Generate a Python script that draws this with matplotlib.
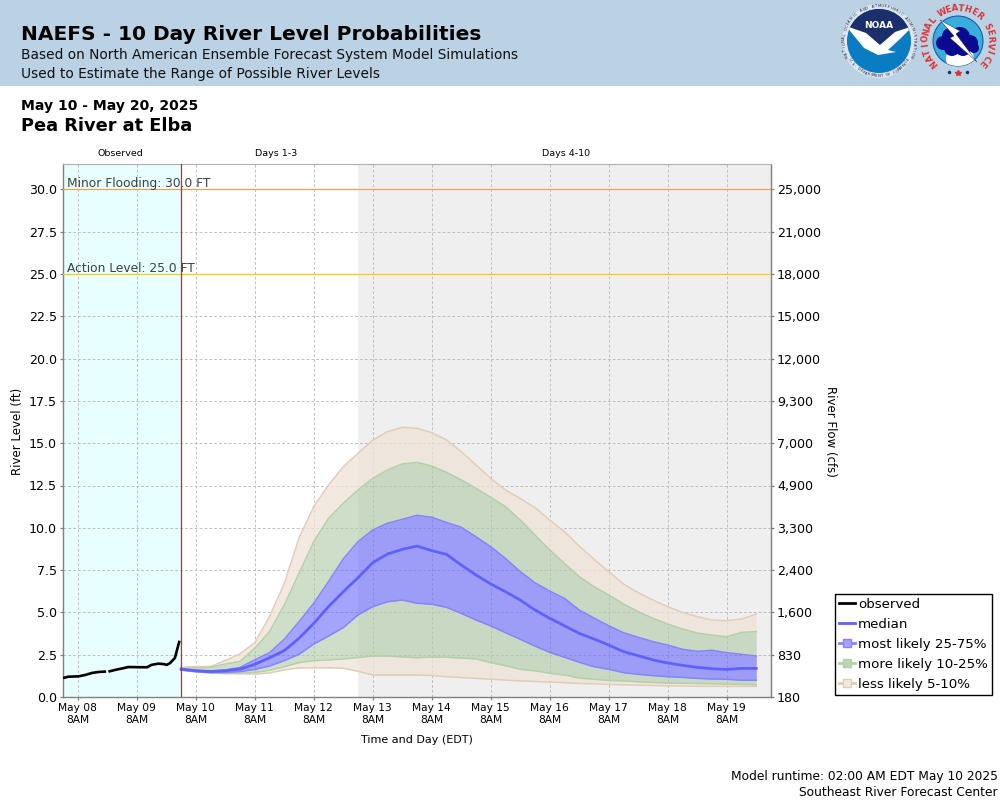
import numpy as np
import pandas as pd
import matplotlib
matplotlib.use('Agg')
import matplotlib.pyplot as plt
import matplotlib.dates as mdates
from matplotlib.lines import Line2D
from matplotlib.patches import Rectangle, Circle, Polygon

# data
run_time = pd.Timestamp('2025-05-10 02:00')
start_time = pd.Timestamp('2025-05-08 02:00')
end_time = pd.Timestamp('2025-05-20 02:00')

obs_hours = [0.5, 2.25, 6.25, 9, 11.75, 14.5, 17, 18, 19, 21.75, 24.5, 26.5, 31.25, 34.25, 36, 38.75, 40.75, 42.25, 43.5, 45.5, 47.25]
obs_level = [1.14, 1.2, 1.22, 1.3, 1.42, 1.48, 1.5, np.nan, 1.52, 1.62, 1.7, 1.77, 1.76, 1.76, 1.9, 1.97, 1.95, 1.9, 2.0, 2.3, 3.25]

tan_high = [1.75, 1.8, 1.8, 2.15, 2.55, 3.2, 4.75, 6.7, 9.4, 11.25, 12.53, 13.6, 14.4, 15.19, 15.68, 15.94, 15.88, 15.62, 15.19, 14.5,
            13.71, 12.92, 12.23, 11.74, 11.19, 10.46, 9.77, 8.92, 8.14, 7.41, 6.68, 6.16, 5.73, 5.34, 5.0, 4.75, 4.55, 4.51, 4.61, 4.9]
green_high = [1.7, 1.72, 1.75, 1.95, 2.1, 2.88, 3.86, 5.44, 7.31, 9.18, 10.56, 11.45, 12.23, 12.92, 13.42, 13.77, 13.87, 13.65, 13.28, 12.83,
              12.33, 11.8, 11.25, 10.46, 9.57, 8.69, 7.9, 7.11, 6.52, 6.03, 5.5, 5.04, 4.65, 4.31, 4.02, 3.78, 3.66, 3.56, 3.82, 3.86]
blue_high = [1.65, 1.58, 1.55, 1.6, 1.75, 2.19, 2.62, 3.41, 4.45, 5.54, 6.82, 8.16, 9.18, 9.87, 10.27, 10.5, 10.74, 10.62, 10.32, 10.03,
             9.47, 8.88, 8.19, 7.41, 6.75, 6.26, 5.83, 5.14, 4.67, 4.21, 3.8, 3.53, 3.27, 3.07, 2.82, 2.7, 2.76, 2.62, 2.52, 2.42]
median = [1.65, 1.55, 1.5, 1.55, 1.65, 1.93, 2.32, 2.74, 3.47, 4.35, 5.34, 6.22, 7.05, 7.94, 8.45, 8.73, 8.92, 8.65, 8.43, 7.8,
          7.21, 6.68, 6.22, 5.73, 5.14, 4.65, 4.21, 3.76, 3.43, 3.07, 2.68, 2.44, 2.19, 2.01, 1.87, 1.75, 1.67, 1.63, 1.69, 1.69]
blue_low = [1.6, 1.5, 1.45, 1.45, 1.5, 1.63, 1.83, 2.15, 2.52, 3.13, 3.6, 4.1, 4.85, 5.34, 5.63, 5.73, 5.54, 5.48, 5.3, 4.94,
            4.55, 4.2, 3.8, 3.41, 3.01, 2.64, 2.35, 2.05, 1.79, 1.64, 1.44, 1.34, 1.26, 1.2, 1.16, 1.1, 1.06, 1.05, 0.99, 0.99]
green_low = [1.6, 1.5, 1.42, 1.4, 1.42, 1.45, 1.58, 1.79, 2.03, 2.15, 2.19, 2.25, 2.33, 2.42, 2.42, 2.37, 2.32, 2.36, 2.35, 2.3,
             2.25, 2.03, 1.85, 1.64, 1.55, 1.4, 1.3, 1.12, 1.05, 0.98, 0.95, 0.9, 0.86, 0.83, 0.82, 0.8, 0.78, 0.76, 0.75, 0.72]
tan_low = [1.58, 1.48, 1.42, 1.38, 1.37, 1.36, 1.42, 1.6, 1.72, 1.73, 1.73, 1.7, 1.52, 1.3, 1.3, 1.3, 1.3, 1.27, 1.2, 1.15,
           1.1, 1.05, 1.0, 0.95, 0.92, 0.88, 0.85, 0.8, 0.78, 0.75, 0.72, 0.7, 0.68, 0.66, 0.65, 0.63, 0.63, 0.63, 0.63, 0.63]

level_ticks = [0, 2.5, 5, 7.5, 10, 12.5, 15, 17.5, 20, 22.5, 25, 27.5, 30]
flow_labels = ['180', '830', '1,600', '2,400', '3,300', '4,900', '7,000', '9,300', '12,000', '15,000', '18,000', '21,000', '25,000']

minor_flood = 30.0
action_level = 25.0

FILL_TAN = '#EEE3D6'
FILL_GREEN = '#B3CBA9'
FILL_BLUE = '#6767FF'
EDGE_TAN = '#E2CDB6'
EDGE_GREEN = '#B4D0A8'
EDGE_BLUE = '#8484FF'
C_MEDIAN = '#6060FF'
C_AXIS = '#808080'

W, H = 1000, 800


def fx(px):
    return px / W


def fy(py):
    return 1 - py / H


fig = plt.figure(figsize=(10, 8), dpi=100)
fig.patch.set_facecolor('white')

# header band
fig.add_artist(Rectangle((0, fy(85.5)), 1, 85.5 / H, transform=fig.transFigure, facecolor='#BBD2E4', edgecolor='none'))

fig.text(fx(21), fy(40), 'NAEFS - 10 Day River Level Probabilities', fontsize=14.5, fontweight='bold', va='baseline')
fig.text(fx(21), fy(59), 'Based on North American Ensemble Forecast System Model Simulations', fontsize=9.87, color='#101010', va='baseline')
fig.text(fx(21), fy(78), 'Used to Estimate the Range of Possible River Levels', fontsize=9.87, color='#101010', va='baseline')
fig.text(fx(21), fy(110), 'May 10 - May 20, 2025', fontsize=10.05, fontweight='bold', va='baseline')
fig.text(fx(21), fy(131), 'Pea River at Elba', fontsize=12.8, fontweight='bold', va='baseline')

# main axes
ax = fig.add_axes([fx(63), fy(697), (771 - 63) / W, (697 - 164) / H])
ax.set_xlim(start_time, end_time)
ax.set_ylim(0, 533 / 16.92)

fc_times = pd.date_range(run_time, periods=len(median), freq='6h')
obs_times = [start_time + pd.Timedelta(hours=h) for h in obs_hours]

ax.axvspan(start_time, run_time, facecolor='#E8FFFF', edgecolor='none', zorder=0)
ax.axvspan(pd.Timestamp('2025-05-13 02:00'), end_time, facecolor='#EFEFEF', edgecolor='none', zorder=0)

ax.xaxis.set_major_locator(mdates.HourLocator(byhour=[8]))
ax.xaxis.set_major_formatter(mdates.DateFormatter('%b %d\n8AM'))
ax.set_yticks(level_ticks)
ax.set_yticklabels([f'{v:.1f}' for v in level_ticks])
ax.grid(True, color='#BEBEBE', linestyle=(0, (2.8, 2.2)), linewidth=0.7, zorder=1)
ax.set_axisbelow(True)

# probability bands
ax.fill_between(fc_times, green_high, tan_high, color=FILL_TAN, alpha=0.75, linewidth=0, zorder=2)
ax.fill_between(fc_times, tan_low, green_low, color=FILL_TAN, alpha=0.75, linewidth=0, zorder=2)
ax.fill_between(fc_times, blue_high, green_high, color=FILL_GREEN, alpha=0.63, linewidth=0, zorder=2)
ax.fill_between(fc_times, green_low, blue_low, color=FILL_GREEN, alpha=0.63, linewidth=0, zorder=2)
ax.fill_between(fc_times, blue_low, blue_high, color=FILL_BLUE, alpha=0.6, linewidth=0, zorder=2)
for series, col in [(tan_high, EDGE_TAN), (tan_low, EDGE_TAN), (green_high, EDGE_GREEN), (green_low, EDGE_GREEN), (blue_high, EDGE_BLUE), (blue_low, EDGE_BLUE)]:
    ax.plot(fc_times, series, color=col, linewidth=1.1, zorder=3)
ax.plot(fc_times, median, color=C_MEDIAN, linewidth=2.0, zorder=4)
ax.plot(obs_times, obs_level, color='black', linewidth=1.9, zorder=5)

# thresholds and run time
ax.axhline(minor_flood, color='#F0A050', linewidth=0.9, zorder=4)
ax.axhline(action_level, color='#FFCC00', linewidth=0.9, zorder=4)
ax.axvline(run_time, color='#E02020', linewidth=0.9, zorder=6)
ax.text(start_time + pd.Timedelta(hours=1.5), minor_flood - 0.05, f'Minor Flooding: {minor_flood:.1f} FT', fontsize=8.85, color='#404040', va='bottom', zorder=7)
ax.text(start_time + pd.Timedelta(hours=1.5), action_level - 0.05, f'Action Level: {action_level:.1f} FT', fontsize=8.85, color='#404040', va='bottom', zorder=7)

for side in ['left', 'right', 'bottom']:
    ax.spines[side].set_color(C_AXIS)
    ax.spines[side].set_linewidth(1.0)
ax.spines['top'].set_color('#B0B0B0')
ax.tick_params(axis='both', colors=C_AXIS, labelcolor='black', length=2.5, width=0.9)
ax.tick_params(axis='x', labelsize=7.7, pad=1.8)
ax.tick_params(axis='y', labelsize=9.1, pad=1.8)
for lab in ax.get_xticklabels():
    lab.set_linespacing(1.3)

# right axis shares level positions, labelled in flow
ax2 = ax.twinx()
ax2.set_ylim(ax.get_ylim())
ax2.set_yticks(level_ticks)
ax2.set_yticklabels(flow_labels)
ax2.tick_params(axis='y', colors=C_AXIS, labelcolor='black', length=2.5, width=0.9, labelsize=9.1, pad=1.8)
for spine in ax2.spines.values():
    spine.set_visible(False)

fig.text(fx(18), fy(431), 'River Level (ft)', rotation=90, fontsize=8.5, ha='center', va='center')
fig.text(fx(831), fy(431), 'River Flow (cfs)', rotation=-90, fontsize=8.5, ha='center', va='center')
fig.text(fx(417), fy(740), 'Time and Day (EDT)', fontsize=8, ha='center', va='center')
fig.text(fx(120), fy(154), 'Observed', fontsize=6.8, ha='center', va='center')
fig.text(fx(276.5), fy(154), 'Days 1-3', fontsize=6.8, ha='center', va='center')
fig.text(fx(566), fy(154), 'Days 4-10', fontsize=6.8, ha='center', va='center')

fig.text(fx(998), fy(780), 'Model runtime: 02:00 AM EDT May 10 2025', fontsize=8.8, ha='right', va='baseline')
fig.text(fx(998), fy(796), 'Southeast River Forecast Center', fontsize=8.8, ha='right', va='baseline')

# legend
handles = [
    Line2D([], [], color='black', linewidth=2),
    Line2D([], [], color=C_MEDIAN, linewidth=2),
    Line2D([], [], color=EDGE_BLUE, linewidth=2, marker='s', markersize=5.5, markerfacecolor='#A4A4FF'),
    Line2D([], [], color=EDGE_GREEN, linewidth=2, marker='s', markersize=5.5, markerfacecolor='#BBD6B0'),
    Line2D([], [], color=EDGE_TAN, linewidth=2, marker='s', markersize=5.5, markerfacecolor='#F2EAE0'),
]
labels = ['observed', 'median', 'most likely 25-75%', 'more likely 10-25%', 'less likely 5-10%']
leg = fig.legend(handles, labels, loc='lower left', bbox_to_anchor=(fx(835), fy(695)), bbox_transform=fig.transFigure,
                 fontsize=9.6, frameon=True, fancybox=False, framealpha=1, edgecolor='black', handlelength=1.15,
                 handletextpad=0.25, labelspacing=0.52, borderpad=0.32, borderaxespad=0)
leg.get_frame().set_linewidth(1.0)

# logos, drawn on a pixel overlay
logo = fig.add_axes([0, 0, 1, 1], facecolor='none')
logo.set_xlim(0, W)
logo.set_ylim(H, 0)
logo.axis('off')
logo.set_zorder(10)

cx, cy = 879, 41
logo.add_patch(Circle((cx, cy), 37, facecolor='#DCE6EE', edgecolor='none'))
disc = Circle((cx, cy), 32, facecolor='#0A7CC2', edgecolor='none')
logo.add_patch(disc)
navy = Polygon([[845, 5], [915, 5], [915, 26], [895, 33], [880, 45], [866, 35], [846, 26]], facecolor='#1B2F6B', edgecolor='none')
logo.add_patch(navy)
navy.set_clip_path(disc)
swoosh = Polygon([[846, 26], [866, 33], [880, 45], [895, 32], [913, 26], [900, 39], [888, 50], [896, 52], [878, 55], [864, 48]], facecolor='white', edgecolor='none')
logo.add_patch(swoosh)
swoosh.set_clip_path(disc)
logo.text(cx, 25, 'NOAA', color='white', fontsize=6.5, fontweight='bold', ha='center', va='center')

ring_noaa = 'NATIONAL OCEANIC AND ATMOSPHERIC ADMINISTRATION'
for i, ch in enumerate(ring_noaa):
    a = np.radians(-115 + 230 * i / (len(ring_noaa) - 1))
    logo.text(cx + 35 * np.sin(a), cy - 35 * np.cos(a), ch, fontsize=2.7, color='#202040', ha='center', va='center', rotation=-np.degrees(a))
ring_doc = 'U.S. DEPARTMENT OF COMMERCE'
for i, ch in enumerate(ring_doc):
    a = np.radians(-58 + 116 * i / (len(ring_doc) - 1))
    logo.text(cx + 35 * np.sin(a), cy + 35 * np.cos(a), ch, fontsize=2.7, color='#202040', ha='center', va='center', rotation=np.degrees(a))

nx, ny = 958, 41
disc2 = Circle((nx, ny), 25, facecolor='#39AEDD', edgecolor='#0A4F9F', linewidth=0.7)
logo.add_patch(disc2)
lower = Circle((nx + 2, ny + 18), 14, facecolor='white', edgecolor='none')
logo.add_patch(lower)
lower.set_clip_path(disc2)
for dx, dy, r in [(-15, 2, 7), (-8, -5, 8), (2, -4, 10), (12, 2, 8), (16, 7, 5), (-6, 7, 8), (5, 7, 8)]:
    logo.add_patch(Circle((nx + dx, ny + dy), r, facecolor='#0A0A90', edgecolor='none'))
logo.add_patch(Polygon([[940, 20], [960, 31], [956, 34], [977, 62], [950, 38], [954, 36]], facecolor='white', edgecolor='#202040', linewidth=0.3))

ring_nws = 'NATIONAL WEATHER SERVICE'
for i, ch in enumerate(ring_nws):
    a = np.radians(-132 + 264 * i / (len(ring_nws) - 1))
    logo.text(nx + 32.5 * np.sin(a), ny - 32.5 * np.cos(a), ch, fontsize=6, fontweight='bold', color='#E03030', ha='center', va='center', rotation=-np.degrees(a))
logo.plot([nx], [ny + 32], marker='*', markersize=4, color='#E03030', linestyle='none')
logo.plot([nx - 9, nx + 9], [ny + 31, ny + 31], marker='o', markersize=1.5, color='#1B2F6B', linestyle='none')

plt.savefig('out.png', dpi=100, facecolor='white')
